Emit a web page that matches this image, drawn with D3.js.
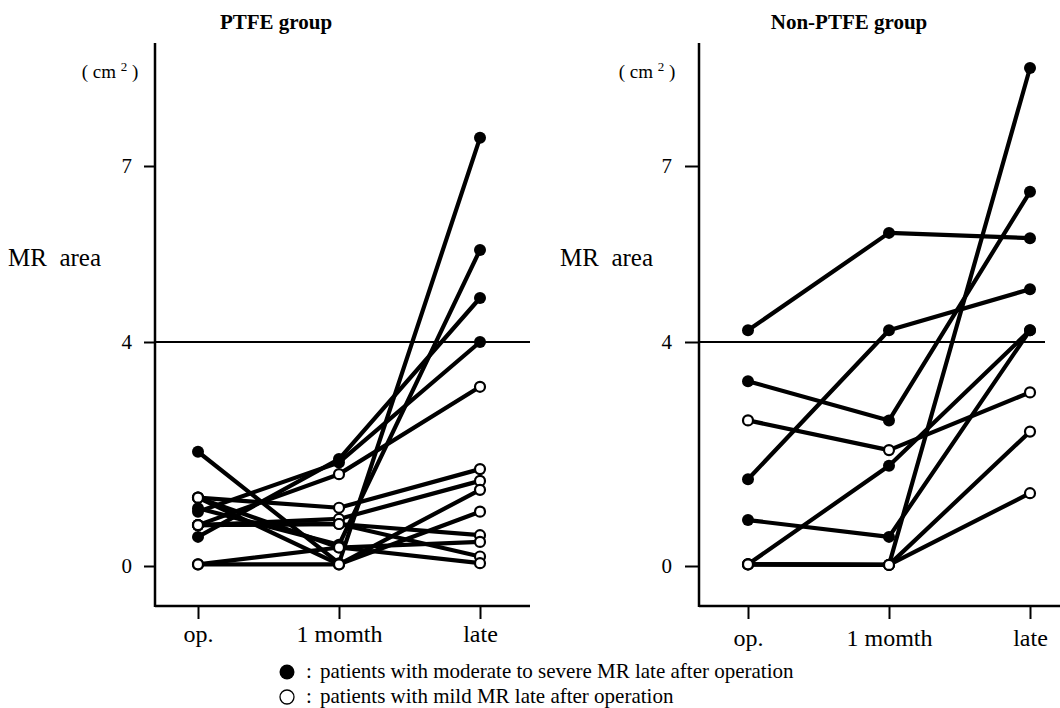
<!DOCTYPE html>
<html>
<head>
<meta charset="utf-8">
<script src="https://cdn.jsdelivr.net/npm/d3@7"></script>
<style>
  body { margin: 0; background: #fff; }
  svg { display: block; }
  svg text { font-family: "Liberation Serif", "Times New Roman", serif; }
</style>
</head>
<body>
<div id="container"></div>
<script>
// time points and y ticks
var timepoints = ["op.", "1 momth", "late"];
var yTicks = [0, 4, 7];

// PTFE group (MR area, cm2)
var ptfeOp     = [2.04, 1.03, 0.52, 0.97, 0.73, 1.22, 0.73, 0.03, 1.22, 0.73, 1.22, 0.73, 0.03];
var ptfeMonth  = [0.05, 0.38, 1.91, 1.85, 1.64, 1.04, 0.84, 0.03, 0.03, 0.75, 0.33, 0.75, 0.33];
var ptfeLate   = [7.48, 5.57, 4.75, 4.00, 3.20, 1.73, 1.52, 1.36, 0.97, 0.55, 0.43, 0.17, 0.05];
var ptfeSevere = [true, true, true, true, false, false, false, false, false, false, false, false, false];

// Non-PTFE group
var nonOp     = [4.20, 3.30, 1.55, 0.82, 0.03, 0.03, 2.60, 0.03, 0.03];
var nonMonth  = [5.86, 2.60, 4.20, 0.52, 1.79, 0.02, 2.07, 0.02, 0.02];
var nonLate   = [5.77, 6.56, 4.90, 4.20, 4.20, 8.67, 3.10, 2.40, 1.30];
var nonSevere = [true, true, true, true, true, true, false, false, false];

var width = 1060, height = 708;
var svg = d3.select("#container").append("svg").attr("width", width).attr("height", height);

var y = d3.scaleLinear().domain([0, 4, 7]).range([566, 342, 166]);

function drawPanel(opt) {
  var g = svg.append("g");
  var x = d3.scalePoint().domain(timepoints).range([opt.x0, opt.x1]);
  var patients = opt.op.map(function(v, i) {
    return { vals: [v, opt.month[i], opt.late[i]], severe: opt.severe[i] };
  });

  // title
  g.append("text").attr("x", opt.titleX).attr("y", 29).attr("text-anchor", "middle")
    .attr("font-weight", "bold").attr("font-size", 21).text(opt.title);

  // frame
  g.append("line").attr("x1", opt.axisX).attr("x2", opt.axisX).attr("y1", 43).attr("y2", 607)
    .attr("stroke", "#000").attr("stroke-width", 2.5);
  g.append("line").attr("x1", opt.axisX).attr("x2", opt.bottomEnd).attr("y1", 606).attr("y2", 606)
    .attr("stroke", "#000").attr("stroke-width", 2.5);
  g.append("line").attr("x1", opt.axisX).attr("x2", opt.refEnd).attr("y1", y(4)).attr("y2", y(4))
    .attr("stroke", "#000").attr("stroke-width", 2);

  // y axis
  var ya = g.append("g").attr("transform", "translate(" + opt.axisX + ",0)")
    .call(d3.axisLeft(y).tickValues(yTicks).tickSize(opt.tick).tickPadding(opt.pad).tickFormat(d3.format("d")));
  ya.select(".domain").remove();
  ya.selectAll("line").attr("stroke", "#000").attr("stroke-width", 2);
  ya.selectAll("text").attr("font-size", 21).attr("fill", "#000");

  // x axis
  var xa = g.append("g").attr("transform", "translate(0,606)")
    .call(d3.axisBottom(x).tickSize(13).tickPadding(opt.xpad));
  xa.select(".domain").remove();
  xa.selectAll("line").attr("stroke", "#000").attr("stroke-width", 2);
  xa.selectAll("text").attr("font-size", 24).attr("fill", "#000");

  // labels
  g.append("text").attr("x", opt.labelX).attr("y", 266).attr("font-size", 25)
    .style("white-space", "pre").text("MR  area");
  var u = g.append("text").attr("x", opt.unitX).attr("y", 78).attr("font-size", 19)
    .attr("text-anchor", "middle").style("white-space", "pre");
  u.append("tspan").text("( cm ");
  u.append("tspan").attr("font-size", 13).attr("dy", -7).text("2");
  u.append("tspan").attr("dy", 7).text(" )");

  // lines
  var line = d3.line().x(function(d, i) { return x(timepoints[i]); }).y(function(d) { return y(d); });
  g.selectAll(".pl").data(patients).enter().append("path").attr("class", "pl")
    .attr("d", function(d) { return line(d.vals); })
    .attr("fill", "none").attr("stroke", "#000").attr("stroke-width", 4.2)
    .attr("stroke-linejoin", "round");

  // dots: severe first, mild on top
  var ordered = patients.filter(function(d) { return d.severe; })
    .concat(patients.filter(function(d) { return !d.severe; }));
  ordered.forEach(function(p) {
    g.selectAll(null).data(p.vals).enter().append("circle")
      .attr("cx", function(d, i) { return x(timepoints[i]); })
      .attr("cy", function(d) { return y(d); })
      .attr("r", p.severe ? 6 : 5)
      .attr("fill", p.severe ? "#000" : "#fff")
      .attr("stroke", "#000").attr("stroke-width", p.severe ? 0 : 2.2);
  });
}

drawPanel({ title: "PTFE group", titleX: 276, axisX: 155, x0: 198, x1: 480, bottomEnd: 530, refEnd: 530,
  op: ptfeOp, month: ptfeMonth, late: ptfeLate, severe: ptfeSevere,
  tick: 11, pad: 12, xpad: 6, labelX: 8, unitX: 110 });
drawPanel({ title: "Non-PTFE group", titleX: 849, axisX: 699, x0: 748, x1: 1030, bottomEnd: 1060, refEnd: 1045,
  op: nonOp, month: nonMonth, late: nonLate, severe: nonSevere,
  tick: 14, pad: 13, xpad: 10, labelX: 560, unitX: 647 });

// legend
var lg = svg.append("g").attr("font-size", 21);
lg.append("circle").attr("cx", 287).attr("cy", 672).attr("r", 7.5).attr("fill", "#000");
lg.append("circle").attr("cx", 287).attr("cy", 697).attr("r", 7).attr("fill", "#fff")
  .attr("stroke", "#000").attr("stroke-width", 1.3);
lg.append("text").attr("x", 306).attr("y", 678).text(":");
lg.append("text").attr("x", 306).attr("y", 703).text(":");
lg.append("text").attr("x", 320).attr("y", 678).text("patients with moderate to severe MR late after operation");
lg.append("text").attr("x", 320).attr("y", 703).text("patients with mild MR late after operation");
</script>
</body>
</html>
